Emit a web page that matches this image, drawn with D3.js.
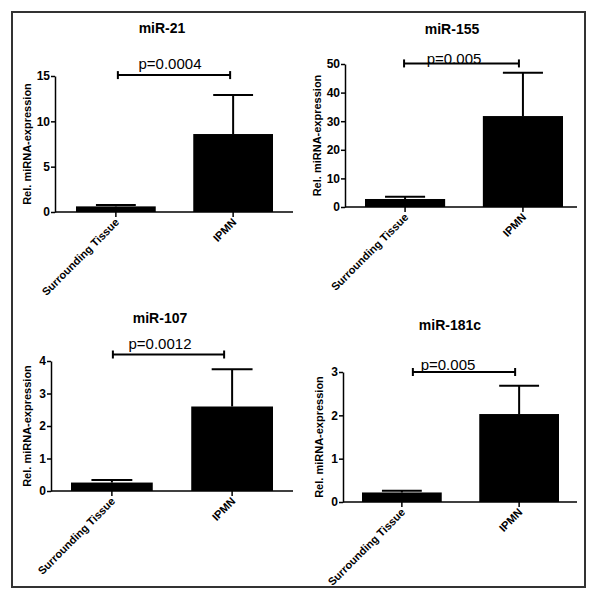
<!DOCTYPE html>
<html>
<head>
<meta charset="utf-8">
<script src="https://d3js.org/d3.v7.min.js"></script>
<style>
  body { margin: 0; background: #fff; }
  text { font-family: Arial, "Liberation Sans", sans-serif; }
</style>
</head>
<body>
<svg width="600" height="600"></svg>
<script>
// data
var panels = ["miR-21", "miR-155", "miR-107", "miR-181c"];
var categories = ["Surrounding Tissue", "IPMN"];
var means = [[0.62, 8.6], [2.8, 31.8], [0.26, 2.6], [0.22, 2.03]];
var sems = [[0.15, 4.3], [0.8, 15.1], [0.08, 1.15], [0.04, 0.65]];
var yMax = [15, 50, 4, 3];
var yTicks = [[0, 5, 10, 15], [0, 10, 20, 30, 40, 50], [0, 1, 2, 3, 4], [0, 1, 2, 3]];
var pLabels = ["p=0.0004", "p=0.005", "p=0.0012", "p=0.005"];
var bracketLevel = [15.1, 50.2, 4.2, 3.0];

// layout of each panel (pixels)
var layout = [
  {ax: 55, axEnd: 293, bx: [76, 273], yTop: 76, y0: 212, tx: 162, ty: 33, lab: -24, px: 170, pdy: -6, br: [2, -3]},
  {ax: 345, axEnd: 577, bx: [365, 563], yTop: 64, y0: 207, tx: 452, ty: 34, lab: -24, px: 454, pdy: 1, br: [-1, -4]},
  {ax: 51, axEnd: 293, bx: [71, 273], yTop: 361, y0: 491, tx: 160, ty: 323, lab: -20, px: 160, pdy: -6, br: [1, -8]},
  {ax: 343, axEnd: 577, bx: [362, 559], yTop: 372, y0: 502, tx: 450, ty: 330, lab: -20, px: 448, pdy: -2, br: [11, -4]}
];

var svg = d3.select("svg");

svg.append("rect")
  .attr("x", 12).attr("y", 12)
  .attr("width", 573).attr("height", 575)
  .attr("fill", "none")
  .attr("stroke", "#333")
  .attr("stroke-width", 2);

panels.forEach(function (name, i) {
  var L = layout[i];
  var g = svg.append("g");

  var x = d3.scaleBand().domain(categories).range(L.bx).paddingInner(0.32);
  var y = d3.scaleLinear().domain([0, yMax[i]]).range([L.y0, L.yTop]);
  var rows = categories.map(function (c, j) { return {cat: c, mean: means[i][j], sem: sems[i][j]}; });

  // bars
  g.selectAll(".bar").data(rows).enter().append("rect")
    .attr("x", function (d) { return x(d.cat); })
    .attr("y", function (d) { return y(d.mean); })
    .attr("width", x.bandwidth())
    .attr("height", function (d) { return L.y0 - y(d.mean); })
    .attr("fill", "#000");

  // error bars (upper only)
  g.selectAll(".err").data(rows).enter().append("line")
    .attr("x1", function (d) { return x(d.cat) + x.bandwidth() / 2; })
    .attr("x2", function (d) { return x(d.cat) + x.bandwidth() / 2; })
    .attr("y1", function (d) { return y(d.mean); })
    .attr("y2", function (d) { return y(d.mean + d.sem); })
    .attr("stroke", "#000").attr("stroke-width", 2);
  g.selectAll(".cap").data(rows).enter().append("line")
    .attr("x1", function (d) { return x(d.cat) + x.bandwidth() / 4; })
    .attr("x2", function (d) { return x(d.cat) + x.bandwidth() * 3 / 4; })
    .attr("y1", function (d) { return y(d.mean + d.sem); })
    .attr("y2", function (d) { return y(d.mean + d.sem); })
    .attr("stroke", "#000").attr("stroke-width", 2);

  // y axis
  var ya = g.append("g")
    .attr("transform", "translate(" + L.ax + ",0)")
    .call(d3.axisLeft(y).tickValues(yTicks[i]).tickFormat(d3.format("d"))
      .tickSize(4).tickPadding(1).tickSizeOuter(0));
  ya.select(".domain").attr("stroke-width", 1.5);
  ya.selectAll(".tick line").attr("stroke-width", 1.5);
  ya.selectAll("text").attr("font-size", 12).attr("font-weight", "bold")
    .attr("font-family", "Arial, 'Liberation Sans', sans-serif").attr("fill", "#000");

  // x axis
  var xa = g.append("g")
    .attr("transform", "translate(0," + L.y0 + ")")
    .call(d3.axisBottom(x).tickSize(5).tickFormat("").tickSizeOuter(0));
  xa.select(".domain").attr("d", "M" + L.ax + ",0H" + L.axEnd).attr("stroke-width", 1.5);
  xa.selectAll(".tick line").attr("stroke-width", 1.5);

  g.selectAll(".catlab").data(categories).enter().append("text")
    .attr("transform", function (c) {
      return "translate(" + (x(c) + x.bandwidth() / 2 + 4) + "," + (L.y0 + 11) + ") rotate(-45)";
    })
    .attr("text-anchor", "end")
    .attr("font-size", 11).attr("font-weight", "bold")
    .text(function (c) { return c; });

  // y label
  g.append("text")
    .attr("transform", "translate(" + (L.ax + L.lab) + "," + ((L.y0 + L.yTop) / 2) + ") rotate(-90)")
    .attr("text-anchor", "middle")
    .attr("font-size", 11).attr("font-weight", "bold")
    .text("Rel. miRNA-expression");

  // title
  g.append("text")
    .attr("x", L.tx).attr("y", L.ty)
    .attr("text-anchor", "middle")
    .attr("font-size", 14).attr("font-weight", "bold")
    .text(name);

  // significance bracket
  var bx1 = x(categories[0]) + x.bandwidth() / 2 + L.br[0];
  var bx2 = x(categories[1]) + x.bandwidth() / 2 + L.br[1];
  var by = y(bracketLevel[i]);
  g.append("line").attr("x1", bx1).attr("x2", bx2).attr("y1", by).attr("y2", by)
    .attr("stroke", "#000").attr("stroke-width", 2);
  [bx1, bx2].forEach(function (bx) {
    g.append("line").attr("x1", bx).attr("x2", bx).attr("y1", by - 4).attr("y2", by + 4)
      .attr("stroke", "#000").attr("stroke-width", 2);
  });
  g.append("text")
    .attr("x", L.px).attr("y", by + L.pdy)
    .attr("text-anchor", "middle")
    .attr("font-size", 15)
    .text(pLabels[i]);
});
</script>
</body>
</html>
